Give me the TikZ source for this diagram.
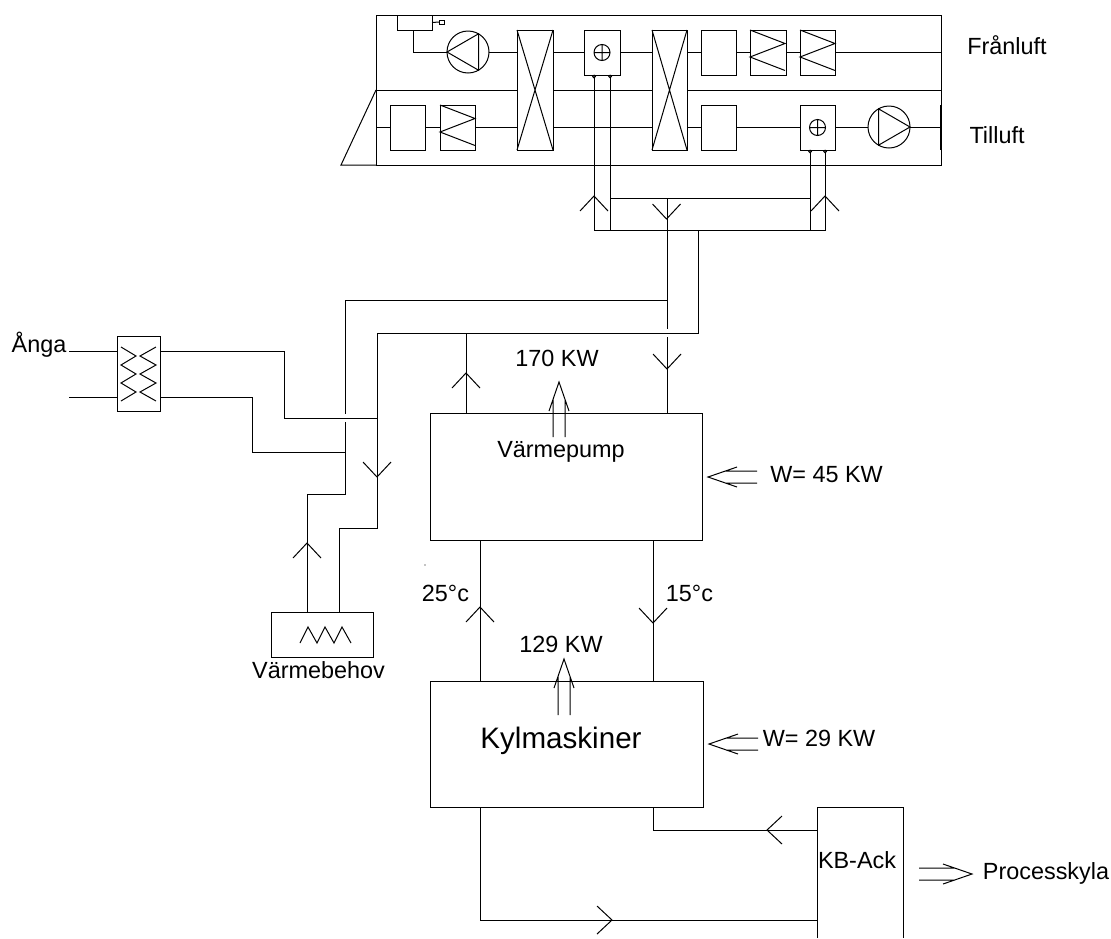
\documentclass[tikz,border=0pt]{standalone}
\usepackage{fontspec}
\setmainfont{Liberation Sans}
\usetikzlibrary{calc,positioning}
\tikzset{
  unit/.style 2 args={draw,inner sep=0pt,outer sep=0pt,minimum width=#1*0.5pt,minimum height=#2*0.5pt},
  fan/.style={draw,circle,inner sep=0pt,outer sep=0pt,minimum size=21pt},
  port/.style={draw,circle,inner sep=0pt,outer sep=0pt,minimum size=1.3pt},
  lab/.style={inner sep=0pt,font=\fontsize{11.7}{14}\selectfont},
}
\begin{document}
\begin{tikzpicture}[x=0.5pt,y=-0.5pt,line width=0.5pt]
  \useasboundingbox (0,0) rectangle (1111,938);
  \node[unit={565}{150}] (casing) at (658.5,90) {};
  \node[unit={35}{15}] (sensor) at (414.5,22.5) {};
  \node[unit={5}{4}] (sensorend) at (441.5,22) {};
  \node[fan] (fanA) at (468,52) {};
  \node[unit={36}{120}] (hxA) at (535,90) {};
  \node[unit={36}{45}] (htrA) at (602,52.5) {};
  \node[unit={35}{120}] (hxB) at (669.5,90) {};
  \node[unit={35}{45}] (boxA) at (718.5,52.5) {};
  \node[unit={36}{45}] (filtA) at (768,52.5) {};
  \node[unit={35}{45}] (filtB) at (817.5,52.5) {};
  \node[unit={35}{45}] (boxB) at (407.5,127.5) {};
  \node[unit={35}{45}] (filtC) at (457.5,127.5) {};
  \node[unit={35}{45}] (boxC) at (718.5,127.5) {};
  \node[unit={35}{45}] (htrB) at (817.5,127.5) {};
  \node[fan] (fanB) at (889,127) {};
  \node[port] (portA) at (594,76.5) {};
  \node[port] (portB) at (610,76.5) {};
  \node[port] (portC) at (810,151.5) {};
  \node[port] (portD) at (825,151.5) {};
  \node[unit={43}{75}] (steam) at (138.5,373.5) {};
  \node[unit={102}{45}] (load) at (322,634.5) {};
  \node[unit={272}{127}] (pump) at (566,476.5) {};
  \node[unit={273}{126}] (chiller) at (566.5,744) {};
  \node[minimum width=43pt,minimum height=65.5pt,inner sep=0pt,outer sep=0pt] (tank) at (860,872.5) {};

  \node[lab] (exhaust) at (1007,45) {Frånluft};
  \node[lab] (supply) at (997,135) {Tilluft};
  \node[lab] (steamtxt) at (39,345) {Ånga};
  \node[lab] (loadtxt) at (318.5,670) {Värmebehov};
  \node[lab] (pumpkw) at (557,358) {170 KW};
  \node[lab] (pumptxt) at (561,452) {Värmepump};
  \node[lab] (pumpw) at (826.5,475) {W= 45 KW};
  \node[lab] (warm) at (445.5,593) {25°c};
  \node[lab] (cold) at (689.5,593) {15°c};
  \node[lab] (chillkw) at (561,644) {129 KW};
  \node[inner sep=0pt,font=\fontsize{14.8}{18}\selectfont] (chilltxt) at (561,741) {Kylmaskiner};
  \node[lab] (chillw) at (819,738) {W= 29 KW};
  \node[lab] (tanktxt) at (857,860) {KB-Ack};
  \node[lab] (process) at (1046,873) {Processkyla};

  % casing
  \coordinate (intake) at (341,165);
  \coordinate (sensordrop) at (413,30);
  \draw (casing.west) -- (hxA.west) (hxA.east) -- (hxB.west) (hxB.east) -- (casing.east);
  \draw (casing.south west) -- (intake) -- (casing.west);
  \draw[line width=0.7pt] (casing.east |- boxC.north) -- (casing.east |- boxC.south);
  \draw (sensordrop) |- (fanA.west);
  \draw (sensor.east) -- (sensorend.west);
  \draw (fanA.east) -- (fanA -| hxA.west);
  \draw (hxA.east |- htrA) -- (htrA);
  \draw (htrA) -- (htrA -| hxB.west);
  \draw (hxB.east |- boxA) -- (boxA) -- (filtA) -- (filtB) -- (filtB -| casing.east);
  \draw (casing.west |- boxB) -- (boxB) -- (filtC) -- (filtC -| hxA.west);
  \draw (hxA.east |- boxB) -- (boxB -| hxB.west);
  \draw (hxB.east |- boxC) -- (boxC) -- (htrB);
  \draw (htrB.east |- fanB) -- (fanB.west) (fanB.east) -- (fanB -| casing.east);
  \foreach \n in {hxA,hxB}
    \draw (\n.north west) -- (\n.south east) (\n.north east) -- (\n.south west);
  \foreach \n in {filtA,filtB,filtC}
    \draw (\n.north west) -- ++(35,13.5) -- ++(-35,13.5) -- ++(35,13.5);
  \foreach \n in {htrA,htrB}
    \draw (\n) circle (8) (\n)+(-8,0) -- +(8,0) (\n)+(0,-8) -- +(0,8);
  \draw (fanA.west) -- (fanA.60) -- (fanA.-60) -- cycle;
  \draw (fanB.east) -- (fanB.120) -- (fanB.-120) -- cycle;

  % pipes
  \coordinate (busA) at (594,230);
  \coordinate (busB) at (825,230);
  \coordinate (retA) at (610,198);
  \coordinate (retB) at (810,198);
  \coordinate (retM) at (667,198);
  \coordinate (supM) at (698,230);
  \coordinate (hopA) at (667,329);
  \coordinate (hopB) at (667,337);
  \coordinate (hot) at (667,300);
  \coordinate (hotL) at (345,300);
  \coordinate (hopC) at (345,414);
  \coordinate (hopD) at (345,422);
  \coordinate (bendA) at (345,494);
  \coordinate (bendB) at (307,494);
  \coordinate (warmT) at (698,333);
  \coordinate (warmL) at (377,333);
  \coordinate (warmM) at (466,333);
  \coordinate (bendC) at (377,528);
  \coordinate (bendD) at (339,528);
  \coordinate (inA) at (69,351);
  \coordinate (inB) at (69,397);
  \coordinate (outA) at (284,351);
  \coordinate (outB) at (284,418);
  \coordinate (outC) at (377,418);
  \coordinate (outD) at (252,397);
  \coordinate (outE) at (252,452);
  \coordinate (outF) at (345,452);
  \coordinate (riseA) at (480,600);
  \coordinate (riseB) at (653,600);
  \coordinate (tankA) at (817,830);
  \coordinate (tankB) at (817,920);
  \draw (portA) -- (busA) -- (busB) -- (portD);
  \draw (portB) -- (portB |- busA);
  \draw (portC) -- (portC |- busA);
  \draw (retA) -- (retB);
  \draw (retM) -- (hopA) (hopB) -- (hopB |- pump.north);
  \draw (hot) -- (hotL) -- (hopC) (hopD) -- (bendA) -- (bendB) -- (bendB |- load.north);
  \draw (supM) -- (warmT) -- (warmL) -- (bendC) -- (bendD) -- (bendD |- load.north);
  \draw (warmM) -- (warmM |- pump.north);
  \draw (inA) -- (inA -| steam.west) (inB) -- (inB -| steam.west);
  \draw (outA -| steam.east) -- (outA) -- (outB) -- (outC);
  \draw (outD -| steam.east) -- (outD) -- (outE) -- (outF);
  \draw (riseA |- pump.south) -- (riseA |- chiller.north);
  \draw (riseB |- pump.south) -- (riseB |- chiller.north);
  \draw (riseB |- chiller.south) |- (tankA);
  \draw (riseA |- chiller.south) |- (tankB);
  \draw (tank.south west) -- (tank.north west) -- (tank.north east) -- (tank.south east);

  % zigzags
  \draw (121,347) -- (136,356) -- (121,365) -- (136,374) -- (121,383) -- (136,392) -- (121,401);
  \draw (156,347) -- (140,356) -- (156,365) -- (140,374) -- (156,383) -- (140,392) -- (156,401);
  \draw (300,643) -- (308,627) -- (317,643) -- (325,627) -- (334,643) -- (342,627) -- (351,643);
  \fill (425,565) circle (0.6);

  % flow tips
  \foreach \x/\y/\r in {594/196/0,825/196/0,666.5/219/180,466/373/0,667/369/180,377/477/180,307/543/0,480/607/0,653/623/180,767/830/90,612/920/-90}
    \draw[shift={(\x,\y)},rotate=\r] (-14,15) -- (0,0) -- (14,15);
  \foreach \x/\y/\r/\l in {559/382/0/55,564/659/0/56,708/477/90/49,709/744/90/49,972/874/-90/53}
    \draw[shift={(\x,\y)},rotate=\r] (-10,29) -- (0,0) -- (10,29) (-6,17) -- (-6,\l) (6,17) -- (6,\l);
\end{tikzpicture}
\end{document}
